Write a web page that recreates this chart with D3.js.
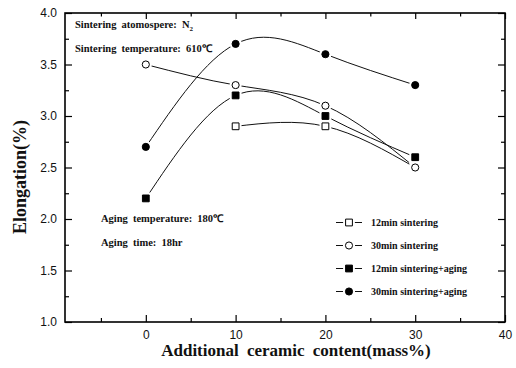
<!DOCTYPE html>
<html>
<head>
<meta charset="utf-8">
<script src="https://cdn.jsdelivr.net/npm/d3@7"></script>
<style>
  body { margin: 0; background: #fff; }
  svg { display: block; }
</style>
</head>
<body>
<div id="graph"></div>
<script>
// data
var contents = [0, 10, 20, 30];
var sinter12 = [null, 2.9, 2.9, 2.5];
var sinter30 = [3.5, 3.3, 3.1, 2.5];
var sinter12Aging = [2.2, 3.2, 3.0, 2.6];
var sinter30Aging = [2.7, 3.7, 3.6, 3.3];
var seriesNames = ["12min sintering", "30min sintering", "12min sintering+aging", "30min sintering+aging"];
var xTicks = [0, 10, 20, 30, 40];
var yTicks = [1.0, 1.5, 2.0, 2.5, 3.0, 3.5, 4.0];

var seriesList = [
    { name: seriesNames[0], values: sinter12, shape: d3.symbolSquare, filled: false },
    { name: seriesNames[1], values: sinter30, shape: d3.symbolCircle, filled: false },
    { name: seriesNames[2], values: sinter12Aging, shape: d3.symbolSquare, filled: true },
    { name: seriesNames[3], values: sinter30Aging, shape: d3.symbolCircle, filled: true }
];

var W = 516, H = 368;
var margin = { top: 13, right: 11, bottom: 46, left: 65 },
    width = W - margin.left - margin.right,
    height = H - margin.top - margin.bottom;

var svg = d3.select("#graph").append("svg").attr("width", W).attr("height", H)
    .append("g").attr("transform", "translate(" + margin.left + "," + margin.top + ")");

var xScale = d3.scaleLinear().domain([-9, 40]).range([0, width]);
var yScale = d3.scaleLinear().domain([1, 4]).range([height, 0]);

var xMinor = d3.range(-5, 40, 10);
var yMinor = d3.range(1.25, 4, 0.5);

// frame ticks (all pointing inward)
function addTicks(g, axis) {
    g.call(axis);
    g.select(".domain").remove();
    g.selectAll("line").attr("stroke", "#000").attr("stroke-width", 1.2);
}
var tickFont = "'Liberation Sans', Arial, sans-serif";

// bottom
var gx = svg.append("g").attr("transform", "translate(0," + height + ")");
addTicks(gx, d3.axisBottom(xScale).tickValues(xTicks).tickSizeInner(-7).tickSizeOuter(0).tickPadding(8).tickFormat(d3.format("d")));
gx.selectAll("text").attr("font-family", tickFont).attr("font-size", 12).attr("fill", "#111");
var gxm = svg.append("g").attr("transform", "translate(0," + height + ")");
addTicks(gxm, d3.axisBottom(xScale).tickValues(xMinor).tickSizeInner(-4).tickSizeOuter(0).tickFormat(""));

// top
var gt = svg.append("g");
addTicks(gt, d3.axisTop(xScale).tickValues(xTicks).tickSizeInner(-6).tickSizeOuter(0).tickFormat(""));
var gtm = svg.append("g");
addTicks(gtm, d3.axisTop(xScale).tickValues(xMinor).tickSizeInner(-3.5).tickSizeOuter(0).tickFormat(""));

// left
var gy = svg.append("g");
addTicks(gy, d3.axisLeft(yScale).tickValues(yTicks).tickSizeInner(-7).tickSizeOuter(0).tickPadding(8).tickFormat(d3.format(".1f")));
gy.selectAll("text").attr("font-family", tickFont).attr("font-size", 12).attr("fill", "#111");
var gym = svg.append("g");
addTicks(gym, d3.axisLeft(yScale).tickValues(yMinor).tickSizeInner(-4).tickSizeOuter(0).tickFormat(""));

// right
var gr = svg.append("g").attr("transform", "translate(" + width + ",0)");
addTicks(gr, d3.axisRight(yScale).tickValues(yTicks).tickSizeInner(-7).tickSizeOuter(0).tickFormat(""));
var grm = svg.append("g").attr("transform", "translate(" + width + ",0)");
addTicks(grm, d3.axisRight(yScale).tickValues(yMinor).tickSizeInner(-4).tickSizeOuter(0).tickFormat(""));

// frame
svg.append("rect").attr("x", 0).attr("y", 0).attr("width", width).attr("height", height)
    .attr("fill", "none").attr("stroke", "#000").attr("stroke-width", 1.6);

// spline lines
var line = d3.line()
    .defined(function (d) { return d[1] != null; })
    .curve(d3.curveNatural)
    .x(function (d) { return xScale(d[0]); })
    .y(function (d) { return yScale(d[1]); });

function pointsOf(s) {
    return contents.map(function (c, i) { return [c, s.values[i]]; })
        .filter(function (d) { return d[1] != null; });
}

seriesList.forEach(function (s) {
    svg.append("path")
        .datum(pointsOf(s))
        .attr("fill", "none")
        .attr("stroke", "#111")
        .attr("stroke-width", 1)
        .attr("d", line);
});

// markers with a white halo so the line stops short of the symbol
function drawMarker(g, s, x, y) {
    var size = s.shape === d3.symbolSquare ? 46 : 40;
    g.append("path")
        .attr("transform", "translate(" + x + "," + y + ")")
        .attr("d", d3.symbol().type(s.shape).size(size)())
        .attr("fill", "#fff").attr("stroke", "#fff").attr("stroke-width", 5);
    g.append("path")
        .attr("transform", "translate(" + x + "," + y + ")")
        .attr("d", d3.symbol().type(s.shape).size(size)())
        .attr("fill", s.filled ? "#000" : "#fff")
        .attr("stroke", "#000").attr("stroke-width", 1);
}

seriesList.forEach(function (s) {
    pointsOf(s).forEach(function (d) {
        drawMarker(svg, s, xScale(d[0]), yScale(d[1]));
    });
});

// annotations
var serif = "'Liberation Serif', 'Times New Roman', serif";
function note(x, y, str) {
    return svg.append("text").attr("x", x).attr("y", y)
        .attr("font-family", serif).attr("font-weight", "bold").attr("font-size", 10.5)
        .attr("word-spacing", 2.5).attr("fill", "#111").text(str);
}
var n1 = note(10, 15, "Sintering atomospere: N");
n1.append("tspan").attr("font-size", 7).attr("dy", 3).text("2");
note(10, 39, "Sintering temperature: 610\u2103");
note(36, 209, "Aging temperature: 180\u2103");
note(36, 233, "Aging time: 18hr");

// legend
var legend = svg.append("g").attr("transform", "translate(271,209.5)");
seriesList.forEach(function (s, i) {
    var ly = i * 23;
    legend.append("line").attr("x1", 0).attr("x2", 26).attr("y1", ly).attr("y2", ly)
        .attr("stroke", "#111").attr("stroke-width", 1);
    drawMarker(legend, s, 13, ly);
    legend.append("text").attr("x", 35).attr("y", ly + 3.5)
        .attr("font-family", serif).attr("font-weight", "bold").attr("font-size", 10)
        .attr("fill", "#111").text(s.name);
});

// axis titles
svg.append("text")
    .attr("x", 231).attr("y", height + 34)
    .attr("text-anchor", "middle")
    .attr("font-family", serif).attr("font-weight", "bold").attr("font-size", 17)
    .attr("word-spacing", 4).attr("fill", "#111")
    .text("Additional ceramic content(mass%)");

svg.append("text")
    .attr("transform", "translate(-39," + (177 - margin.top) + ") rotate(-90)")
    .attr("text-anchor", "middle")
    .attr("font-family", serif).attr("font-weight", "bold").attr("font-size", 18)
    .attr("fill", "#111")
    .text("Elongation(%)");
</script>
</body>
</html>
